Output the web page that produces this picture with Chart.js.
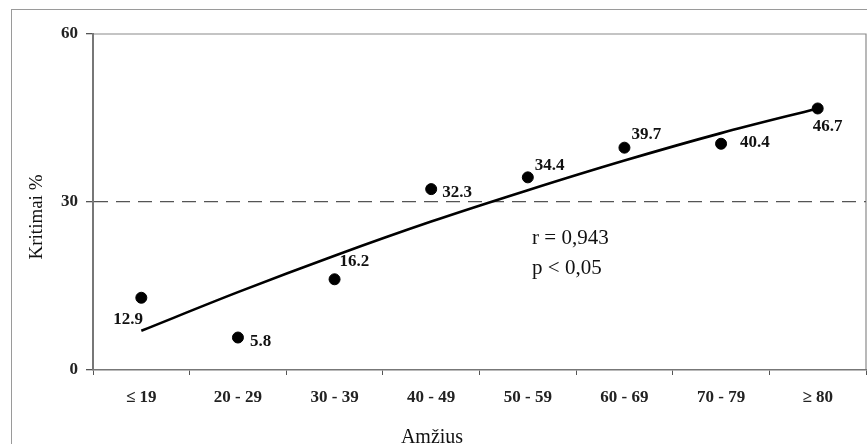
<!DOCTYPE html>
<html>
<head>
<meta charset="utf-8">
<script src="https://cdn.jsdelivr.net/npm/chart.js@4/dist/chart.umd.min.js"></script>
<style>
  body { margin: 0; background: #fff; }
  #wrap { position: relative; width: 867px; height: 444px; }
</style>
</head>
<body>
<div id="wrap"><canvas id="myChart" width="867" height="444"></canvas></div>
<script>
// age groups and fall percentages
const ageGroups = ["\u2264 19", "20 - 29", "30 - 39", "40 - 49", "50 - 59", "60 - 69", "70 - 79", "\u2265 80"];
const fallPercent = [12.9, 5.8, 16.2, 32.3, 34.4, 39.7, 40.4, 46.7];
const trendValues = [7.0, 13.9, 20.4, 26.5, 32.1, 37.4, 42.3, 46.7];
const yTicks = [0, 30, 60];
const yTitle = "Kritimai %";
const xTitle = "Amžius";
const statLines = ["r = 0,943", "p < 0,05"];

// where each value label sits next to its dot (dx, dy)
const labelOffsets = [[-28, 20], [12, 2], [5, -19], [11, 2], [7, -13], [7, -15], [19, -3], [-5, 17]];

const serif = "'Liberation Serif', 'DejaVu Serif', serif";

const extrasPlugin = {
  id: "extras",
  beforeDraw(chart) {
    const ctx = chart.ctx;
    ctx.save();
    ctx.strokeStyle = "#9a9a9a";
    ctx.lineWidth = 1;
    ctx.strokeRect(11.5, 9.5, 900, 500);
    const a = chart.chartArea;
    ctx.strokeStyle = "#8a8a8a";
    ctx.lineWidth = 1.2;
    ctx.beginPath();
    ctx.moveTo(a.left, a.top);
    ctx.lineTo(a.right, a.top);
    ctx.lineTo(a.right, a.bottom);
    ctx.stroke();
    ctx.restore();
  },
  afterDraw(chart) {
    const ctx = chart.ctx;
    const a = chart.chartArea;
    const meta = chart.getDatasetMeta(0);
    ctx.save();
    ctx.fillStyle = "#111";
    ctx.font = "bold 17px " + serif;
    ctx.textAlign = "left";
    ctx.textBaseline = "alphabetic";
    meta.data.forEach((pt, i) => {
      const off = labelOffsets[i];
      ctx.fillText(String(fallPercent[i]), pt.x + off[0], pt.y + off[1] + 6);
    });

    ctx.font = "21px " + serif;
    const sx = a.left + (a.right - a.left) * 0.568;
    ctx.fillText(statLines[0], sx, 244);
    ctx.fillText(statLines[1], sx, 274);

    ctx.textAlign = "center";
    ctx.font = "20px " + serif;
    ctx.fillText(xTitle, 432, 443);

    ctx.translate(42, 217);
    ctx.rotate(-Math.PI / 2);
    ctx.font = "19px " + serif;
    ctx.fillText(yTitle, 0, 0);
    ctx.restore();
  }
};

const config = {
  type: "line",
  data: {
    labels: ageGroups,
    datasets: [
      {
        label: "Kritimai",
        data: fallPercent,
        showLine: false,
        pointRadius: 5.5,
        pointBackgroundColor: "#000",
        pointBorderColor: "#000",
        order: 0
      },
      {
        label: "Trend",
        data: trendValues,
        borderColor: "#000",
        borderWidth: 2.6,
        pointRadius: 0,
        tension: 0.4,
        cubicInterpolationMode: "monotone",
        order: 1
      }
    ]
  },
  options: {
    responsive: false,
    animation: false,
    devicePixelRatio: 1,
    layout: { autoPadding: false, padding: { left: 0, top: 34, right: 1, bottom: 0 } },
    plugins: { legend: { display: false }, tooltip: { enabled: false } },
    scales: {
      x: {
        type: "category",
        offset: true,
        grid: {
          offset: true,
          drawOnChartArea: false,
          color: "#555",
          tickColor: "#555",
          tickLength: 5
        },
        border: { color: "#777", width: 1.5 },
        ticks: {
          color: "#222",
          padding: 12,
          maxRotation: 0,
          font: { family: serif, size: 17, weight: "bold" }
        },
        afterFit: (scale) => {
          scale.height = 74;
          scale.paddingLeft = 0;
          scale.paddingRight = 0;
        }
      },
      y: {
        min: 0,
        max: 60,
        afterBuildTicks: (scale) => { scale.ticks = yTicks.map((v) => ({ value: v })); },
        grid: {
          color: (c) => (c.tick && c.tick.value === 30 ? "#555" : "transparent"),
          lineWidth: 1.3,
          tickColor: "#555",
          tickLength: 7
        },
        border: { color: "#777", width: 2, dash: [14, 8] },
        ticks: {
          color: "#222",
          padding: 8,
          font: { family: serif, size: 17, weight: "bold" }
        },
        afterFit: (scale) => { scale.width = 93; }
      }
    }
  },
  plugins: [extrasPlugin]
};

window.onload = () => {
  new Chart(document.getElementById("myChart"), config);
};
</script>
</body>
</html>
